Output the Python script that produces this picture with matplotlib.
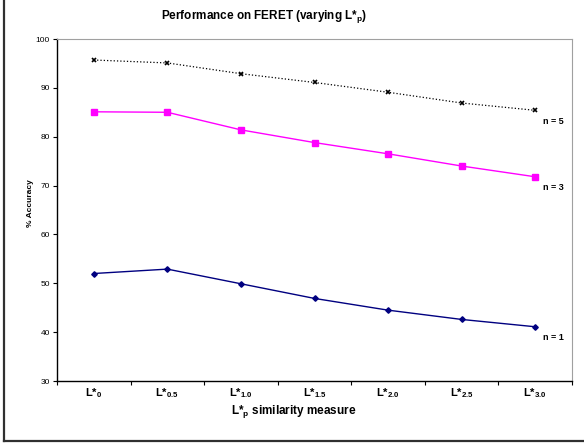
import matplotlib
matplotlib.use("Agg")
import matplotlib.pyplot as plt
from matplotlib.lines import Line2D

plt.rcParams['font.family'] = ['Liberation Sans', 'DejaVu Sans']
plt.rcParams['mathtext.fontset'] = 'custom'
plt.rcParams['mathtext.rm'] = 'Liberation Sans'
plt.rcParams['mathtext.bf'] = 'Liberation Sans:bold'
plt.rcParams['mathtext.it'] = 'Liberation Sans:italic'

# data
measures = ['0', '0.5', '1.0', '1.5', '2.0', '2.5', '3.0']
n5 = [95.7, 95.1, 92.9, 91.1, 89.1, 86.9, 85.4]
n3 = [85.1, 85.0, 81.4, 78.8, 76.5, 74.0, 71.8]
n1 = [52.0, 52.9, 49.9, 46.9, 44.5, 42.6, 41.1]
series_labels = ['n = 5', 'n = 3', 'n = 1']
yticks = [30, 40, 50, 60, 70, 80, 90, 100]

fig = plt.figure(figsize=(5.84, 4.44), dpi=100)
ax = fig.add_axes([57 / 584, 1 - 381 / 444, 515 / 584, 342 / 444])

x = list(range(len(measures)))
ax.plot(x, n5, ':', color='black', lw=0.9, marker='x', ms=3.2, mew=1.2)
ax.plot(x, n3, '-', color='#ff00ff', lw=1.0, marker='s', ms=3.8)
ax.plot(x, n1, '-', color='#000080', lw=1.0, marker='D', ms=2.8)

# labels next to last points
for vals, lab in zip([n5, n3, n1], series_labels):
    ax.annotate(lab, (x[-1], vals[-1]), xytext=(8, -11), textcoords='offset pixels',
                fontsize=6.5, fontweight='bold', ha='left', va='center',
                annotation_clip=False)

ax.set_xlim(-0.5, len(measures) - 0.5)
ax.set_ylim(30, 100)
ax.set_yticks(yticks)
ax.tick_params(axis='y', direction='out', length=3, width=0.8, labelsize=6, pad=2)

ax.set_xticks(x)
ax.set_xticklabels([r'L*$_{\mathbf{%s}}$' % m for m in measures], fontsize=8, fontweight='bold')
ax.tick_params(axis='x', which='major', length=0, pad=4)
ax.set_xticks([i - 0.5 for i in range(len(measures) + 1)], minor=True)
ax.tick_params(axis='x', which='minor', direction='out', length=3, width=0.8)

for s in ['top', 'right']:
    ax.spines[s].set_color('#a0a0a0')
for s in ['left', 'bottom']:
    ax.spines[s].set_color('black')
    ax.spines[s].set_linewidth(1.0)

fig.text(30 / 584, 1 - 203 / 444, '% Accuracy', rotation=90, ha='center', va='center',
         fontsize=6, fontweight='bold')
fig.text(294 / 584, 1 - 411 / 444, r'L*$_{\mathbf{p}}$ similarity measure', ha='center', va='center',
         fontsize=8.5, fontweight='bold')
fig.text(264 / 584, 1 - 17 / 444, r'Performance on FERET (varying L*$_{\mathbf{p}}$)',
         ha='center', va='center', fontsize=8.5, fontweight='bold')

# outer chart frame (left and bottom visible)
fig.add_artist(Line2D([3.5 / 584, 3.5 / 584], [3 / 444, 1], transform=fig.transFigure,
                      color='#303030', lw=1.6))
fig.add_artist(Line2D([3.5 / 584, 1], [3 / 444, 3 / 444], transform=fig.transFigure,
                      color='#303030', lw=1.6))

plt.savefig('out.png', dpi=100)
